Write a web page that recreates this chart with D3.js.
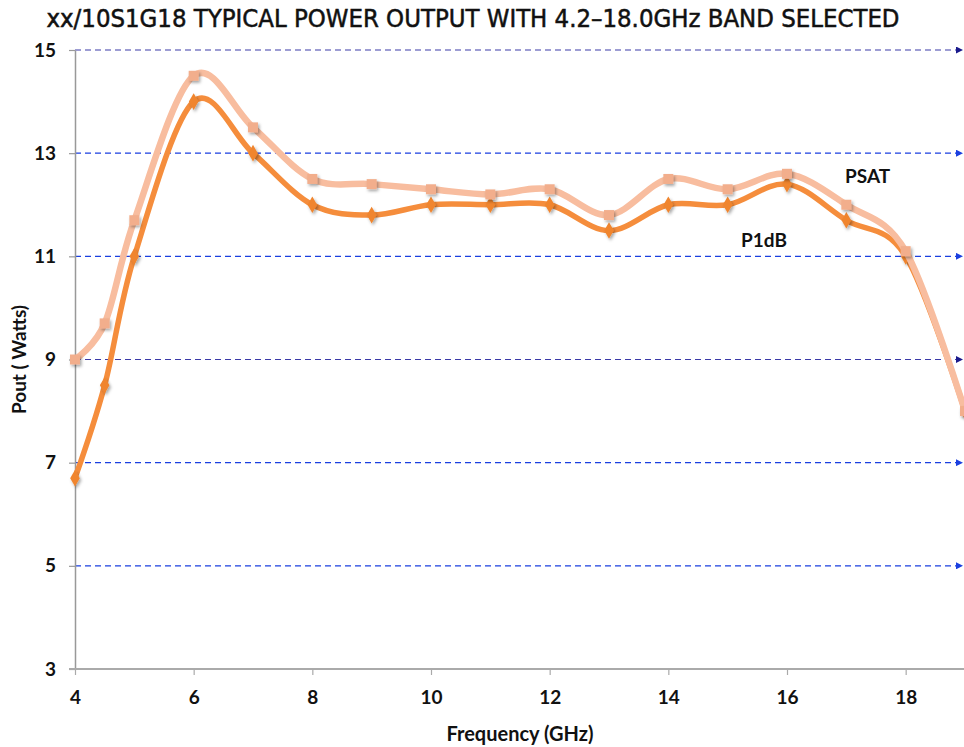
<!DOCTYPE html>
<html>
<head>
<meta charset="utf-8">
<script src="https://cdn.jsdelivr.net/npm/d3@7"></script>
<style>
  html, body { margin: 0; padding: 0; background: #fff; }
  svg { display: block; }
</style>
</head>
<body>
<svg id="chart" width="964" height="747"></svg>
<script>
// data
const freqs = [4, 4.5, 5, 6, 7, 8, 9, 10, 11, 12, 13, 14, 15, 16, 17, 18, 19];
const psat = [9.0, 9.7, 11.7, 14.5, 13.5, 12.5, 12.4, 12.3, 12.2, 12.3, 11.8, 12.5, 12.3, 12.6, 12.0, 11.1, 8.0];
const p1db = [6.7, 8.5, 11.0, 14.0, 13.0, 12.0, 11.8, 12.0, 12.0, 12.0, 11.5, 12.0, 12.0, 12.4, 11.7, 11.0, 8.0];
const xTicks = [4, 6, 8, 10, 12, 14, 16, 18];
const yTicks = [3, 5, 7, 9, 11, 13, 15];
const gridLines = [15, 13, 11, 9, 7, 5];

const width = 964, height = 747;
const margin = { top: 50, right: -1, bottom: 78, left: 75 };

const svg = d3.select("#chart");

const scaleX = d3.scaleLinear()
  .domain([4, 19])
  .range([margin.left, width - margin.right]);

const scaleY = d3.scaleLinear()
  .domain([3, 15])
  .range([height - margin.bottom, margin.top]);

const defs = svg.append("defs");

// soft shadow under the markers
const shadow = defs.append("filter").attr("id", "shadow")
  .attr("x", "-50%").attr("y", "-50%").attr("width", "200%").attr("height", "200%");
shadow.append("feDropShadow")
  .attr("dx", 1.5).attr("dy", 2).attr("stdDeviation", 1.5)
  .attr("flood-color", "#000").attr("flood-opacity", 0.35);

// arrowheads for the grid lines
const isDark = v => v === 15 || v === 9;
const gridColor = v => isDark(v) ? "#3a3aa8" : "#1a3fe0";
["navy", "blue"].forEach((name, i) => {
  defs.append("marker")
    .attr("id", "arrow-" + name)
    .attr("viewBox", "0 0 10 10")
    .attr("refX", 10).attr("refY", 5)
    .attr("markerWidth", 7).attr("markerHeight", 7)
    .attr("markerUnits", "userSpaceOnUse")
    .attr("orient", "auto")
    .append("path")
    .attr("d", "M0,0L10,5L0,10Z")
    .attr("fill", i === 0 ? "#1a1a8c" : "#1a3fe0");
});

defs.append("clipPath").attr("id", "plot-clip")
  .append("rect")
  .attr("x", 0).attr("y", 0)
  .attr("width", width).attr("height", height);

// title
svg.append("text")
  .attr("x", 473)
  .attr("y", 27)
  .attr("text-anchor", "middle")
  .attr("textLength", 853)
  .attr("lengthAdjust", "spacingAndGlyphs")
  .style("font", "25px 'Liberation Sans Narrow', 'DejaVu Sans Condensed', sans-serif")
  .style("fill", "#111")
  .style("stroke", "#111")
  .style("stroke-width", 0.5)
  .text("xx/10S1G18 TYPICAL POWER OUTPUT WITH 4.2\u201318.0GHz BAND SELECTED");

// dashed grid lines with arrow ends
svg.append("g")
  .selectAll("line")
  .data(gridLines)
  .join("line")
  .attr("x1", margin.left)
  .attr("x2", 963)
  .attr("y1", d => scaleY(d))
  .attr("y2", d => scaleY(d))
  .attr("stroke", d => gridColor(d))
  .attr("stroke-width", 1.2)
  .attr("stroke-dasharray", "6,4")
  .attr("marker-end", d => isDark(d) ? "url(#arrow-navy)" : "url(#arrow-blue)");

// y axis
const yAxis = svg.append("g")
  .attr("transform", `translate(${margin.left},0)`)
  .call(d3.axisLeft(scaleY).tickValues(yTicks).tickSize(6).tickPadding(13).tickSizeOuter(0));
yAxis.select(".domain").attr("stroke", "#999").attr("stroke-width", 1.5);
yAxis.selectAll(".tick line").attr("stroke", "#999").attr("stroke-width", 1.2);
yAxis.selectAll(".tick text")
  .style("font", "bold 19px Lato, 'Open Sans', sans-serif")
  .attr("fill", "#111");

// x axis
const xAxis = svg.append("g")
  .attr("transform", `translate(0,${scaleY(3)})`)
  .call(d3.axisBottom(scaleX).tickValues(xTicks).tickSize(6).tickPadding(16).tickSizeOuter(0));
xAxis.select(".domain").attr("stroke", "#aaa").attr("stroke-width", 2)
  .attr("d", `M${margin.left - 6},0H${width}`);
xAxis.selectAll(".tick line").attr("stroke", "#aaa").attr("stroke-width", 1.2);
xAxis.selectAll(".tick text")
  .style("font", "bold 19px Lato, 'Open Sans', sans-serif")
  .attr("fill", "#111");

// axis titles
svg.append("text")
  .attr("transform", `translate(26,${(scaleY(3) + scaleY(15)) / 2}) rotate(-90)`)
  .attr("text-anchor", "middle")
  .style("font", "bold 19px Lato, 'Open Sans', sans-serif")
  .attr("fill", "#111")
  .text("Pout ( Watts)");

svg.append("text")
  .attr("x", 520)
  .attr("y", 741)
  .attr("text-anchor", "middle")
  .style("font", "bold 20px Lato, 'Open Sans', sans-serif")
  .attr("fill", "#111")
  .text("Frequency (GHz)");

// series
const series = [
  { key: "P1dB", values: p1db, color: "#f58d3c", marker: "#f0852e", width: 5.5, symbol: d3.symbolDiamond, size: 80 },
  { key: "PSAT", values: psat, color: "#f8bd9f", marker: "#f2ae8c", width: 6.5, symbol: d3.symbolSquare, size: 100 }
];

const line = d3.line()
  .x(d => scaleX(d[0]))
  .y(d => scaleY(d[1]))
  .curve(d3.curveCatmullRom.alpha(0));

const plot = svg.append("g").attr("clip-path", "url(#plot-clip)");

series.forEach(s => {
  const pts = freqs.map((f, i) => [f, s.values[i]]);
  const g = plot.append("g");
  g.append("path")
    .attr("fill", "none")
    .attr("stroke", s.color)
    .attr("stroke-width", s.width)
    .attr("stroke-linejoin", "round")
    .attr("d", line(pts));
  g.selectAll("path.mark")
    .data(pts)
    .join("path")
    .attr("class", "mark")
    .attr("transform", d => `translate(${scaleX(d[0])},${scaleY(d[1])})`)
    .attr("d", d3.symbol(s.symbol, s.size))
    .attr("fill", s.marker)
    .attr("filter", "url(#shadow)");
});

// series labels
svg.append("text")
  .attr("x", 845).attr("y", 183)
  .style("font", "bold 19px Lato, 'Open Sans', sans-serif")
  .attr("fill", "#111")
  .text("PSAT");

svg.append("text")
  .attr("x", 741).attr("y", 247)
  .style("font", "bold 19px Lato, 'Open Sans', sans-serif")
  .attr("fill", "#111")
  .text("P1dB");
</script>
</body>
</html>
